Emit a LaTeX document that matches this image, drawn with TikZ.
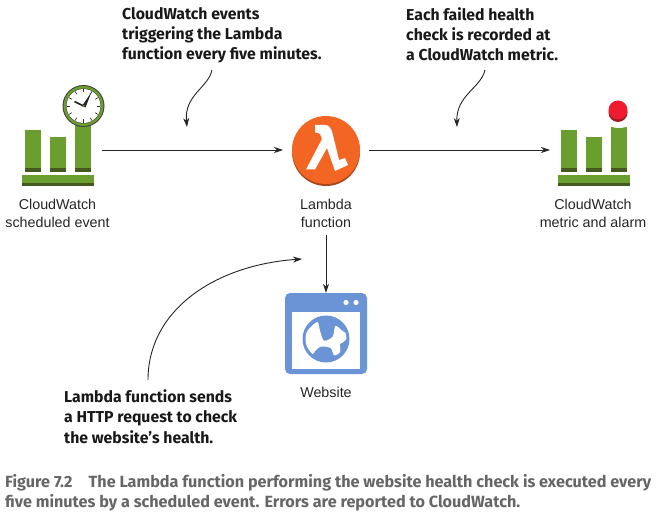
\documentclass[tikz,border=0pt]{standalone}
\usepackage{fontspec}
\setmainfont{Liberation Sans}
\newfontfamily\callfont{Fira Sans}[UprightFont=*,BoldFont=* Bold]
\usetikzlibrary{arrows.meta}
\definecolor{barg}{HTML}{6A9E2F}
\definecolor{bard}{HTML}{45591F}
\definecolor{lamb}{HTML}{F26522}
\definecolor{lambd}{HTML}{A8461C}
\definecolor{web}{HTML}{6A94D6}
\definecolor{capt}{HTML}{666666}
\definecolor{alarm}{HTML}{EE1C2E}
\definecolor{alarmd}{HTML}{9E1B22}
\tikzset{
  lab/.style={font=\fontsize{14.3}{18}\selectfont,align=center,text=black!85},
  call/.style={font=\callfont\bfseries\fontsize{15.8}{20.3}\selectfont,align=left,anchor=north west,inner sep=0pt,text=black!90},
  capn/.style={font=\callfont\bfseries\fontsize{16.2}{20}\selectfont,align=left,anchor=north west,inner sep=0pt,text=capt},
  conn/.style={draw=black!85,line width=0.9pt,-{Stealth[length=9pt,width=6pt]}},
  anchorbox/.style={inner sep=0pt,minimum width=#1,minimum height=#1},
  green/.style={fill=barg},
  dark/.style={fill=bard},
}
\newcommand{\chartbars}[1]{%
  \begin{scope}[shift={(#1,0)}]
    \fill[green] (0,130) rectangle (16,172);
    \fill[dark] (0,168) rectangle (16,172);
    \fill[green] (25,137) rectangle (41,172);
    \fill[dark] (25,168) rectangle (41,172);
    \fill[green] (50,125) rectangle (66,172);
    \fill[dark] (50,168) rectangle (66,172);
    \fill[green] (-3,175) rectangle (69,186);
    \fill[dark] (-3,183) rectangle (69,186);
  \end{scope}}
\begin{document}
\begin{tikzpicture}[x=1pt,y=-1pt]
\useasboundingbox (0,0) rectangle (658,513);
\fill[white] (0,0) rectangle (658,513);

% left icon
\chartbars{25}
\fill[black!75] (83.5,106) circle (21pt);
\fill[barg] (83.5,106) circle (20pt);
\fill[black!75] (83.5,106) circle (17.5pt);
\fill[white] (83.5,106) circle (17pt);
\foreach \a in {0,30,...,330}
  \draw[black!80,line width=0.7pt] (83.5,106) ++(\a:13.5pt) -- ++(\a:3.2pt);
\draw[black!85,line width=1.6pt] (83.5,106) -- (74.5,101.5);
\fill[black!85] (82,106) -- (91.5,92) -- (85.5,107.5) -- cycle;
\fill[barg] (83.5,106) circle (1.2pt);
\node[anchorbox=72pt] (sched) at (58,150) {};

% lambda icon
\fill[lambd] (326,152) circle (34pt);
\fill[lamb] (326,150) circle (34pt);
\fill[white] (315,125) -- (325,125) .. controls (329,125) and (331,128) .. (332,131)
  -- (339,160) -- (345,158) -- (348,165) -- (335,171) -- (327,148) -- (315,169.5) -- (306,169.5)
  -- (322,139) -- (320,134) .. controls (319,133) and (317,132.5) .. (315,132.5) -- cycle;
\node[anchorbox=68pt,circle] (lam) at (326,150) {};

% website icon
\fill[web,rounded corners=5pt] (285,293) rectangle (367,374);
\fill[white] (292,312) rectangle (360,369);
\fill[white] (346,302.5) circle (2.6pt) (356,302.5) circle (2.6pt);
\fill[web] (326,339) circle (23.5pt);
\begin{scope}
  \clip (326,339) circle (20.5pt);
  \begin{scope}[shift={(300,310)},x=0.3333pt,y=-0.3333pt]
    \fill[white] plot[smooth cycle,tension=0.5] coordinates {(12,85) (26,58) (52,36) (60,62) (72,92) (98,80) (106,48) (124,60) (145,78) (128,98) (120,102) (120,126) (102,136) (92,114) (62,110) (46,122) (38,132) (22,112)};
  \end{scope}
\end{scope}
\node[anchorbox=80pt] (site) at (326,333) {};

% right icon
\chartbars{561}
\fill[white] (619,123.5) ellipse (11pt and 4.5pt);
\fill[alarmd] (618,112.5) circle (9.5pt);
\fill[alarm] (618,110) circle (9.5pt);
\node[anchorbox=72pt] (metric) at (594,150) {};

% labels
\node[lab] (schedlab) at (57.5,213) {CloudWatch\\scheduled event};
\node[lab] (lamlab) at (326,213) {Lambda\\function};
\node[lab] (metriclab) at (593,213) {CloudWatch\\metric and alarm};
\node[lab] at (326,392) {Website};

% callouts
\node[call] (c1) at (122,7) {CloudWatch events\\triggering the Lambda\\function every five minutes.};
\node[call] (c2) at (406,7) {Each failed health\\check is recorded at\\a CloudWatch metric.};
\node[call] (c3) at (64,389.5) {Lambda function sends\\a HTTP request to check\\the website’s health.};

% connectors
\draw[conn] (sched.east) ++(8,0) coordinate (s1) (s1) -- (283,150);
\draw[conn] (lam.east) ++(9,0) coordinate (l1) (l1) -- (550,150) coordinate (m1);
\draw[conn] (lamlab.south) ++(0,4) coordinate (l2) (l2) -- (site.north);
\coordinate (a1s) at (212,70); \coordinate (a1e) at (187,127);
\draw[conn] (a1s) .. controls (208,88) and (184,95) .. (a1e);
\coordinate (a2s) at (485,70); \coordinate (a2e) at (457,127);
\draw[conn] (a2s) .. controls (481,88) and (456,95) .. (a2e);
\coordinate (a3s) at (148,380); \coordinate (a3e) at (302,259);
\draw[conn] (a3s) .. controls (148,310) and (215,265) .. (a3e);

% caption
\node[capn] at (5,474) {Figure 7.2\hspace{1em}The Lambda function performing the website health check is executed every\\five minutes by a scheduled event. Errors are reported to CloudWatch.};
\end{tikzpicture}
\end{document}
